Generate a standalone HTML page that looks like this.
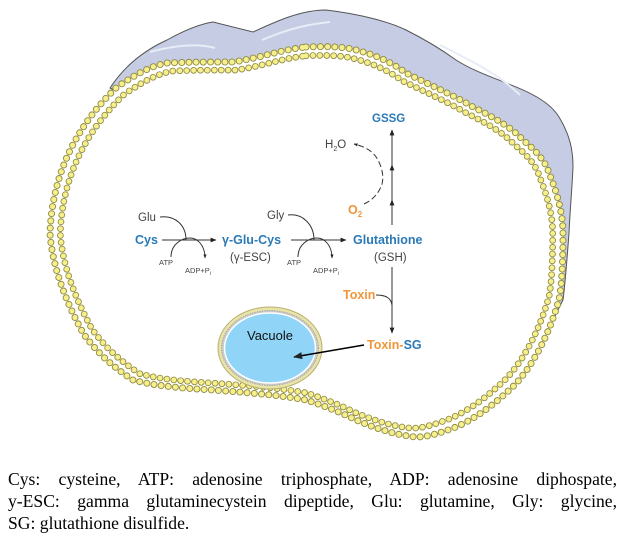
<!DOCTYPE html>
<html><head><meta charset="utf-8"><style>
body{margin:0;background:#fff;width:626px;height:554px;overflow:hidden;position:relative}
svg{position:absolute;left:0;top:0}
.cap{position:absolute;left:8px;top:468px;width:609px;font-family:"Liberation Serif",serif;font-size:17.6px;line-height:22px;color:#000}
.cap div{text-align:justify;text-align-last:justify;white-space:nowrap}
.cap div.l{text-align-last:left}
</style></head><body>
<svg width="626" height="554" viewBox="0 0 626 554">
<defs>
<marker id="ah" viewBox="0 0 10 10" refX="9" refY="5" markerWidth="6" markerHeight="6" orient="auto"><path d="M0,1 L10,5 L0,9 z" fill="#222"/></marker>
<marker id="as" viewBox="0 0 10 10" refX="9" refY="5" markerWidth="4" markerHeight="4" orient="auto"><path d="M0,1 L10,5 L0,9 z" fill="#222"/></marker>
</defs>
<path d="M110,88 C125,65 145,50 167,40 C185,30 200,24 213,22 L253,32 C275,22 300,10 326,10 C360,14 390,22 406,30 C430,42 445,52 456,60 C475,72 495,78 506,83 C530,92 550,102 559,117 C570,135 573,150 573,167 C572,190 570,210 569,233 C567,260 565,285 563,300 L553,320 Z" fill="#c5cce4" stroke="#555" stroke-width="1"/>
<path d="M150,52 C180,44 200,44 215,48 M262,40 C290,28 310,24 330,22 M440,45 C470,60 500,75 520,95" fill="none" stroke="#e8ecf7" stroke-width="2"/>
<path d="M306,47 C330,46 345,47 356,50 C380,56 395,65 406,73 C430,85 455,96 473,107 C495,118 512,128 523,140 C535,150 545,160 549,173 C558,195 563,215 563,233 C563,260 562,285 559,300 C553,320 547,335 539,350 C528,370 518,383 506,393 C490,408 472,420 456,427 C440,433 428,437 416,437 C395,435 375,428 356,420 C340,412 322,405 306,400 C280,395 240,392 213,390 C180,388 155,386 133,380 C110,365 95,350 83,333 C65,300 52,265 50,233 C52,180 72,130 117,87 C135,75 150,66 167,63 C190,62 212,62 233,62 C260,58 280,50 306,47 Z" fill="#fff"/>
<g fill="none" stroke-linecap="round">
<path d="M306,47 C330,46 345,47 356,50 C380,56 395,65 406,73 C430,85 455,96 473,107 C495,118 512,128 523,140 C535,150 545,160 549,173 C558,195 563,215 563,233 C563,260 562,285 559,300 C553,320 547,335 539,350 C528,370 518,383 506,393 C490,408 472,420 456,427 C440,433 428,437 416,437 C395,435 375,428 356,420 C340,412 322,405 306,400 C280,395 240,392 213,390 C180,388 155,386 133,380 C110,365 95,350 83,333 C65,300 52,265 50,233 C52,180 72,130 117,87 C135,75 150,66 167,63 C190,62 212,62 233,62 C260,58 280,50 306,47 Z" stroke="#8f8a40" stroke-width="7" stroke-dasharray="0 7.2"/>
<path d="M306,47 C330,46 345,47 356,50 C380,56 395,65 406,73 C430,85 455,96 473,107 C495,118 512,128 523,140 C535,150 545,160 549,173 C558,195 563,215 563,233 C563,260 562,285 559,300 C553,320 547,335 539,350 C528,370 518,383 506,393 C490,408 472,420 456,427 C440,433 428,437 416,437 C395,435 375,428 356,420 C340,412 322,405 306,400 C280,395 240,392 213,390 C180,388 155,386 133,380 C110,365 95,350 83,333 C65,300 52,265 50,233 C52,180 72,130 117,87 C135,75 150,66 167,63 C190,62 212,62 233,62 C260,58 280,50 306,47 Z" stroke="#f6ef8c" stroke-width="5.2" stroke-dasharray="0 7.2"/>
<g transform="translate(306,242) scale(0.96,0.955) translate(-306,-242)">
<path d="M306,47 C330,46 345,47 356,50 C380,56 395,65 406,73 C430,85 455,96 473,107 C495,118 512,128 523,140 C535,150 545,160 549,173 C558,195 563,215 563,233 C563,260 562,285 559,300 C553,320 547,335 539,350 C528,370 518,383 506,393 C490,408 472,420 456,427 C440,433 428,437 416,437 C395,435 375,428 356,420 C340,412 322,405 306,400 C280,395 240,392 213,390 C180,388 155,386 133,380 C110,365 95,350 83,333 C65,300 52,265 50,233 C52,180 72,130 117,87 C135,75 150,66 167,63 C190,62 212,62 233,62 C260,58 280,50 306,47 Z" stroke="#8f8a40" stroke-width="7" stroke-dasharray="0 7.2"/>
<path d="M306,47 C330,46 345,47 356,50 C380,56 395,65 406,73 C430,85 455,96 473,107 C495,118 512,128 523,140 C535,150 545,160 549,173 C558,195 563,215 563,233 C563,260 562,285 559,300 C553,320 547,335 539,350 C528,370 518,383 506,393 C490,408 472,420 456,427 C440,433 428,437 416,437 C395,435 375,428 356,420 C340,412 322,405 306,400 C280,395 240,392 213,390 C180,388 155,386 133,380 C110,365 95,350 83,333 C65,300 52,265 50,233 C52,180 72,130 117,87 C135,75 150,66 167,63 C190,62 212,62 233,62 C260,58 280,50 306,47 Z" stroke="#f6ef8c" stroke-width="5.2" stroke-dasharray="0 7.2"/>
</g>
</g>
<ellipse cx="270" cy="348" rx="52" ry="41" fill="#e9e4a8" stroke="#b9b070" stroke-width="1"/>
<ellipse cx="270" cy="348" rx="48.5" ry="37.5" fill="#c9c9c9" stroke="#999" stroke-width="1" stroke-dasharray="1 1.5"/>
<ellipse cx="270" cy="348" rx="45.5" ry="35" fill="#90d4f8" stroke="#fff" stroke-width="1.5"/>
<text x="270" y="340" font-family="Liberation Sans,sans-serif" font-size="13" text-anchor="middle" fill="#111">Vacuole</text>
<line x1="364" y1="345" x2="294" y2="357" stroke="#000" stroke-width="1.5" marker-end="url(#ah)"/>
<g font-family="Liberation Sans,sans-serif" font-weight="bold" font-size="12.5" fill="#2a7ab8">
<text x="135" y="244">Cys</text>
<text x="222" y="244">γ-Glu-Cys</text>
<text x="353" y="244">Glutathione</text>
<text x="372" y="122" font-size="11.5">GSSG</text>
<text x="343" y="299" fill="#f0963a">Toxin</text>
<text x="367" y="349" fill="#f0963a">Toxin-<tspan fill="#2a7ab8">SG</tspan></text>
<text x="348" y="214" fill="#f0963a">O<tspan font-size="8" dy="3">2</tspan></text>
</g>
<g font-family="Liberation Sans,sans-serif" font-size="11.5" fill="#444">
<text x="138" y="221">Glu</text>
<text x="267" y="219">Gly</text>
<text x="230" y="261">(γ-ESC)</text>
<text x="374" y="261">(GSH)</text>
<text x="325" y="148">H<tspan font-size="7" dy="3">2</tspan><tspan dy="-3">O</tspan></text>
<g font-size="7.5"><text x="159" y="265">ATP</text><text x="185" y="273">ADP+P<tspan font-size="5" dy="2">i</tspan></text>
<text x="287" y="265">ATP</text><text x="313" y="273">ADP+P<tspan font-size="5" dy="2">i</tspan></text></g>
</g>
<g fill="none" stroke="#333" stroke-width="1">
<line x1="162" y1="240" x2="216" y2="240" marker-end="url(#ah)"/>
<line x1="291" y1="240" x2="346" y2="240" marker-end="url(#ah)"/>
<path d="M160,217 C175,215 186,225 186,240"/>
<path d="M171,257 C171,244 182,238 190,238 C198,238 205,246 205,258" marker-end="url(#as)"/>
<path d="M288,215 C303,213 314,225 314,240"/>
<path d="M298,257 C298,244 309,238 317,238 C325,238 332,246 332,258" marker-end="url(#as)"/>
<line x1="392" y1="225" x2="392" y2="130" marker-end="url(#ah)"/>
<line x1="392" y1="225" x2="392" y2="200" marker-end="url(#ah)"/>
<line x1="392" y1="190" x2="392" y2="165" marker-end="url(#ah)"/>
<line x1="392" y1="267" x2="392" y2="333" marker-end="url(#ah)"/>
<path d="M376,295 C386,295 391,298 392,305"/>
<path d="M364,204 C373,200 379,193 382,184 C384,176 382,168 378,160 C373,151 366,147 354,144" stroke-dasharray="6 3" marker-end="url(#as)"/>
</g>
</svg>
<div class="cap">
<div>Cys: cysteine, ATP: adenosine triphosphate, ADP: adenosine diphospate,</div>
<div>y-ESC: gamma glutaminecystein dipeptide, Glu: glutamine, Gly: glycine,</div>
<div class="l">SG: glutathione disulfide.</div>
</div>
</body></html>
